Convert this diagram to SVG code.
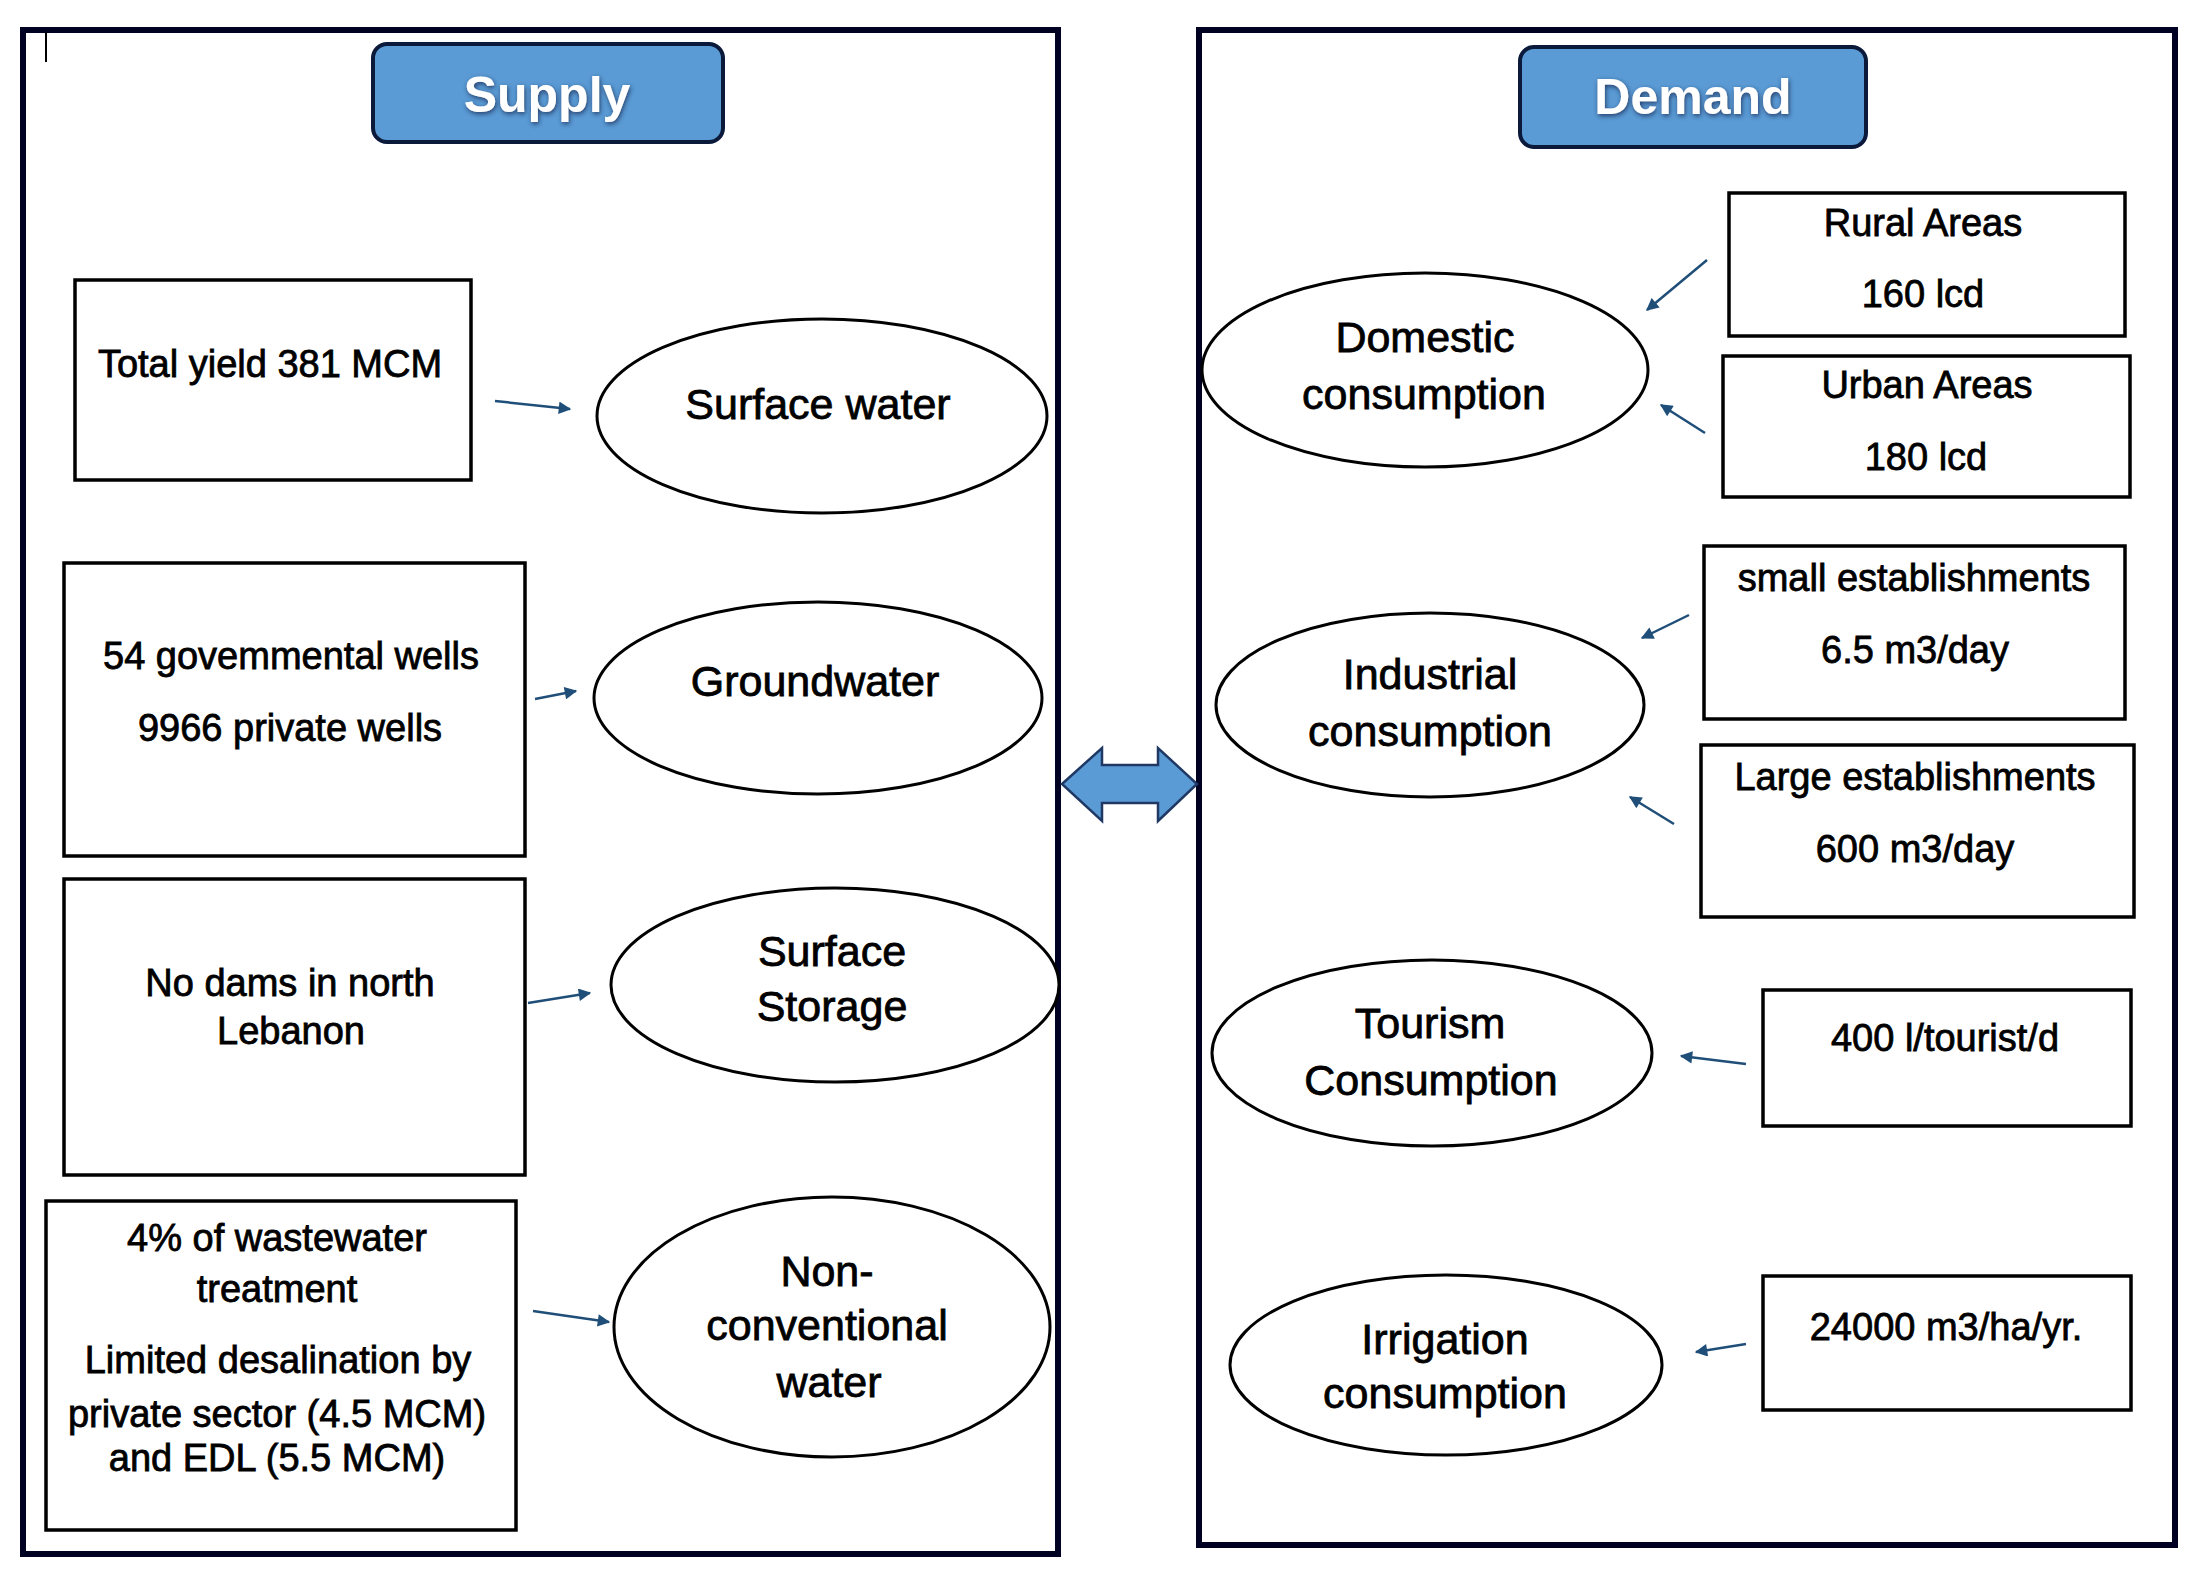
<svg xmlns="http://www.w3.org/2000/svg" width="2203" height="1590" viewBox="0 0 2203 1590">
<style>
.panel{fill:none;stroke:#000022;stroke-width:6}
.btn{fill:#5b9bd5;stroke:#0b1a3a;stroke-width:4}
.btxt{font-family:"Liberation Sans",Arial,sans-serif;font-weight:bold;font-size:50px;fill:#ffffff;text-anchor:middle}
.box{fill:#ffffff;stroke:#000000;stroke-width:3.5}
.ell{fill:#ffffff;stroke:#000000;stroke-width:3}
.t{font-family:"Liberation Sans",Arial,sans-serif;font-size:38px;fill:#000000;stroke:#000000;stroke-width:0.8;text-anchor:middle}
.te{font-family:"Liberation Sans",Arial,sans-serif;font-size:43px;fill:#000000;stroke:#000000;stroke-width:0.8;text-anchor:middle}
.conn{stroke:#1f4e79;stroke-width:2.5;fill:none;marker-end:url(#ah)}
</style>
<defs>
<marker id="ah" viewBox="0 0 10 10" refX="9" refY="5" markerWidth="5.5" markerHeight="5" orient="auto" markerUnits="strokeWidth">
<path d="M0,0 L10,5 L0,10 Z" fill="#1f4e79"/>
</marker>
<filter id="glow" x="-20%" y="-30%" width="140%" height="170%">
<feGaussianBlur in="SourceAlpha" stdDeviation="2.5" result="b"/>
<feOffset in="b" dx="1" dy="2" result="o"/>
<feFlood flood-color="#1f3864" flood-opacity="0.95"/>
<feComposite in2="o" operator="in" result="s"/>
<feMerge><feMergeNode in="s"/><feMergeNode in="SourceGraphic"/></feMerge>
</filter>
</defs>
<rect width="2203" height="1590" fill="#ffffff"/>

<g id="supply-panel">
<rect class="panel" x="23" y="30" width="1035" height="1524"/>
<line x1="46" y1="32" x2="46" y2="62" stroke="#000000" stroke-width="2"/>
</g>
<g id="demand-panel">
<rect class="panel" x="1199" y="30" width="976" height="1515"/>
</g>

<g id="supply-title">
<rect class="btn" x="373" y="44" width="350" height="98" rx="14"/>
<text class="btxt" x="547" y="112" filter="url(#glow)">Supply</text>
</g>
<g id="demand-title">
<rect class="btn" x="1520" y="47" width="346" height="100" rx="14"/>
<text class="btxt" x="1693" y="114" filter="url(#glow)">Demand</text>
</g>

<g id="total-yield">
<rect class="box" x="75" y="280" width="396" height="200"/>
<text class="t" x="270" y="377">Total yield 381 MCM</text>
</g>
<g id="surface-water">
<ellipse class="ell" cx="822" cy="416" rx="225" ry="97"/>
<text class="te" x="818" y="419">Surface water</text>
</g>

<g id="wells">
<rect class="box" x="64" y="563" width="461" height="293"/>
<text class="t" x="291" y="669">54 govemmental wells</text>
<text class="t" x="290" y="741">9966 private wells</text>
</g>
<g id="groundwater">
<ellipse class="ell" cx="818" cy="698" rx="224" ry="96"/>
<text class="te" x="815" y="696">Groundwater</text>
</g>

<g id="no-dams">
<rect class="box" x="64" y="879" width="461" height="296"/>
<text class="t" x="290" y="996">No dams in north</text>
<text class="t" x="291" y="1044">Lebanon</text>
</g>
<g id="surface-storage">
<ellipse class="ell" cx="835" cy="985" rx="224" ry="97"/>
<text class="te" x="832" y="966">Surface</text>
<text class="te" x="832" y="1021">Storage</text>
</g>

<g id="wastewater">
<rect class="box" x="46" y="1201" width="470" height="329"/>
<text class="t" x="277" y="1251">4% of wastewater</text>
<text class="t" x="277" y="1302">treatment</text>
<text class="t" x="278" y="1373">Limited desalination by</text>
<text class="t" x="277" y="1427">private sector (4.5 MCM)</text>
<text class="t" x="277" y="1471">and EDL (5.5 MCM)</text>
</g>
<g id="non-conventional">
<ellipse class="ell" cx="832" cy="1327" rx="218" ry="130"/>
<text class="te" x="827" y="1286">Non-</text>
<text class="te" x="827" y="1340">conventional</text>
<text class="te" x="829" y="1397">water</text>
</g>

<g id="rural">
<rect class="box" x="1729" y="193" width="396" height="143"/>
<text class="t" x="1923" y="236">Rural Areas</text>
<text class="t" x="1923" y="307">160 lcd</text>
</g>
<g id="urban">
<rect class="box" x="1723" y="356" width="407" height="141"/>
<text class="t" x="1927" y="398">Urban Areas</text>
<text class="t" x="1926" y="470">180 lcd</text>
</g>
<g id="domestic">
<ellipse class="ell" cx="1425" cy="370" rx="223" ry="97"/>
<text class="te" x="1425" y="352">Domestic</text>
<text class="te" x="1424" y="409">consumption</text>
</g>

<g id="small-est">
<rect class="box" x="1704" y="546" width="421" height="173"/>
<text class="t" x="1914" y="591">small establishments</text>
<text class="t" x="1915" y="663">6.5 m3/day</text>
</g>
<g id="large-est">
<rect class="box" x="1701" y="745" width="433" height="172"/>
<text class="t" x="1915" y="790">Large establishments</text>
<text class="t" x="1915" y="862">600 m3/day</text>
</g>
<g id="industrial">
<ellipse class="ell" cx="1430" cy="705" rx="214" ry="92"/>
<text class="te" x="1430" y="689">Industrial</text>
<text class="te" x="1430" y="746">consumption</text>
</g>

<g id="tourist-rate">
<rect class="box" x="1763" y="990" width="368" height="136"/>
<text class="t" x="1945" y="1051">400 l/tourist/d</text>
</g>
<g id="tourism">
<ellipse class="ell" cx="1432" cy="1053" rx="220" ry="93"/>
<text class="te" x="1430" y="1038">Tourism</text>
<text class="te" x="1431" y="1095">Consumption</text>
</g>

<g id="irrigation-rate">
<rect class="box" x="1763" y="1276" width="368" height="134"/>
<text class="t" x="1946" y="1340">24000 m3/ha/yr.</text>
</g>
<g id="irrigation">
<ellipse class="ell" cx="1446" cy="1365" rx="216" ry="90"/>
<text class="te" x="1445" y="1354">Irrigation</text>
<text class="te" x="1445" y="1408">consumption</text>
</g>

<g id="connectors">
<line class="conn" x1="495" y1="401" x2="570" y2="409"/>
<line class="conn" x1="535" y1="699" x2="576" y2="691"/>
<line class="conn" x1="528" y1="1003" x2="590" y2="993"/>
<line class="conn" x1="533" y1="1311" x2="609" y2="1322"/>
<line class="conn" x1="1707" y1="260" x2="1647" y2="310"/>
<line class="conn" x1="1705" y1="433" x2="1661" y2="405"/>
<line class="conn" x1="1689" y1="615" x2="1642" y2="638"/>
<line class="conn" x1="1674" y1="824" x2="1630" y2="797"/>
<line class="conn" x1="1746" y1="1064" x2="1681" y2="1056"/>
<line class="conn" x1="1746" y1="1344" x2="1696" y2="1352"/>
<path id="supply-demand" d="M1062,784 L1102,748 L1102,765 L1158,765 L1158,748 L1197,784 L1158,821 L1158,803 L1102,803 L1102,821 Z" fill="#5b9bd5" stroke="#1f3864" stroke-width="2.5" stroke-linejoin="miter"/>
</g>
</svg>
